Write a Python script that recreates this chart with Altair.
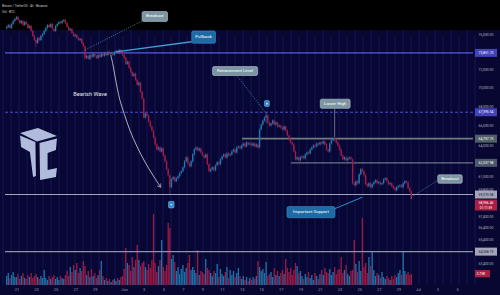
import json
import altair as alt
import pandas as pd

# ---------------------------------------------------------------
# BTC/USDT 4h candles, six per day, May 20 -> Jun 30 (closes, USDT)
# ---------------------------------------------------------------
closes_by_day = [
    [76864, 77100, 76745, 77219, 77576, 77815],
    [78055, 77695, 77338, 77576, 77100, 77457],
    [77219, 76745, 76982, 76392, 75807, 75342],
    [74995, 75574, 75342, 75807, 76040, 76392],
    [76745, 77100, 76864, 77219, 76627, 76392],
    [76982, 77219, 77457, 77338, 77576, 77695],
    [77338, 76864, 76510, 76627, 76158, 75807],
    [75923, 75574, 75342, 75458, 74995, 74650],
    [73287, 73512, 73175, 73625, 73400, 73738],
    [73512, 73287, 73625, 73400, 73738, 73512],
    [73851, 73625, 73965, 73738, 73851, 73625],
    [73965, 74078, 73851, 74192, 73965, 73625],
    [73287, 72616, 72839, 72171, 71729, 71290],
    [71509, 70855, 70313, 70529, 69562, 68820],
    [66844, 67255, 67049, 66434, 65927, 65524],
    [64825, 64133, 63643, 63838, 63448, 63741],
    [63060, 62482, 61721, 61155, 60040, 60781],
    [60968, 60595, 60874, 61062, 61343, 61532],
    [61910, 62482, 62866, 62291, 62005, 62482],
    [63157, 63643, 63838, 63545, 63741, 63350],
    [63060, 62866, 63157, 62196, 61532, 61721],
    [61910, 61626, 62100, 62386, 62196, 62674],
    [62963, 63157, 62866, 63253, 63060, 63157],
    [63448, 63643, 63350, 63838, 63936, 63741],
    [64035, 64231, 63936, 64330, 64133, 64231],
    [64035, 64231, 63936, 64133, 63838, 65625],
    [66130, 66537, 66844, 67049, 66332, 66028],
    [66231, 66537, 66130, 66332, 65927, 66028],
    [65826, 65625, 65927, 65524, 65024, 64626],
    [64330, 64133, 63448, 62674, 62866, 62578],
    [62866, 62963, 62770, 63157, 63350, 63253],
    [63643, 63838, 64035, 63936, 64231, 64133],
    [64330, 64231, 64429, 64133, 63643, 63448],
    [64231, 64527, 64725, 64626, 64330, 64035],
    [63643, 63060, 62674, 62866, 62578, 62770],
    [62866, 62674, 60409, 60224, 60595, 60409],
    [61249, 61721, 61532, 61155, 60317, 60132],
    [60409, 60040, 60317, 60502, 60688, 60409],
    [60502, 60317, 60409, 60781, 60874, 60595],
    [60317, 60409, 60132, 59948, 59764, 60040],
    [60132, 60224, 60040, 60409, 60595, 60502],
    [59948, 59672, 58956.46],
]
first_open = 76700

# candle index -> (high, low) for the wicks that stand out
wick_extremes = {
    18: (75420, 74540),
    48: (74700, 73063),
    100: (61200, 59420),
    159: (67400, 66300),
    201: (64760, 64420),
    248: (59700, 58900),
}

# 4h volume, thousand BTC
volume_by_day = [
    [2.97, 3.96, 2.31, 3.30, 4.29, 2.64],
    [2.64, 3.63, 1.98, 2.97, 3.96, 2.31],
    [1.98, 3.30, 2.64, 3.96, 2.31, 2.97],
    [3.63, 2.64, 1.98, 2.97, 2.31, 4.95],
    [2.31, 1.65, 2.97, 1.98, 2.64, 3.30],
    [1.98, 2.64, 1.65, 2.97, 2.31, 1.98],
    [3.30, 4.62, 2.97, 5.94, 4.29, 6.60],
    [4.95, 7.26, 3.96, 5.61, 4.62, 7.92],
    [6.27, 3.30, 4.62, 2.64, 5.28, 2.97],
    [3.96, 2.31, 3.30, 4.95, 7.92, 2.97],
    [1.65, 2.31, 1.32, 1.98, 0.99, 1.65],
    [1.98, 1.32, 2.31, 1.65, 2.64, 2.97],
    [5.28, 12.21, 7.26, 6.60, 4.62, 9.24],
    [5.94, 8.25, 13.20, 8.25, 6.27, 7.26],
    [7.92, 5.94, 4.95, 6.93, 5.61, 8.25],
    [23.43, 7.26, 4.29, 6.27, 8.25, 14.85],
    [5.94, 4.62, 6.60, 20.46, 18.81, 8.58],
    [9.90, 7.59, 4.62, 5.94, 3.63, 5.28],
    [6.60, 4.29, 5.61, 7.26, 9.90, 4.95],
    [5.94, 4.95, 3.96, 11.55, 3.30, 4.62],
    [4.29, 3.63, 8.58, 5.61, 4.95, 3.96],
    [2.97, 4.62, 3.96, 6.93, 2.64, 5.28],
    [3.63, 2.97, 4.29, 5.94, 2.31, 4.95],
    [3.30, 4.62, 2.64, 3.96, 5.61, 2.97],
    [1.98, 2.97, 1.65, 2.64, 1.32, 2.31],
    [1.65, 2.64, 1.98, 2.97, 7.92, 5.94],
    [4.62, 5.28, 3.96, 7.59, 2.97, 3.63],
    [4.29, 2.64, 5.61, 3.30, 4.62, 2.97],
    [3.96, 4.95, 3.63, 8.58, 5.61, 4.29],
    [5.61, 3.30, 4.95, 7.26, 6.27, 3.96],
    [4.62, 2.97, 1.98, 3.63, 2.64, 4.29],
    [2.31, 3.30, 1.65, 3.96, 2.97, 1.98],
    [3.63, 4.95, 3.30, 5.61, 4.29, 3.96],
    [5.28, 3.30, 4.29, 5.94, 3.63, 4.95],
    [5.28, 9.24, 3.96, 4.95, 6.60, 3.63],
    [2.97, 4.62, 4.95, 14.85, 6.93, 4.29],
    [7.92, 4.62, 22.11, 5.94, 7.26, 3.96],
    [9.24, 6.27, 10.89, 4.95, 2.97, 3.96],
    [3.30, 2.31, 4.29, 2.64, 1.98, 2.97],
    [2.31, 1.65, 2.97, 1.98, 3.30, 2.64],
    [3.96, 4.95, 3.30, 10.89, 4.62, 3.63],
    [4.29, 3.30, 3.73],
]

# horizontal levels drawn across the chart
level_prices = [73851.73, 64707.73, 62337.98, 59370.08, 54368.19]
level_starts = [-12.17, 12.03, 17.03, -12.17, -12.17]
level_colors = ["#5a5ae8", "#6f7d7b", "#6b7982", "#b3b7c9", "#8e93aa"]
level_widths = [1.4, 1.6, 1.3, 0.9, 1.4]
retracement_price = 67395.54

# price scale labels
price_ticks = [80000, 78000, 76000, 72000, 70000, 68000, 66000, 64000,
               61000, 59800, 57400, 56400, 55400, 53400]
# time axis: days relative to Jun 1
tick_days = [-11, -9, -7, -5, -3, 0, 2, 4, 6, 8, 10, 12, 14, 16, 18, 20,
             22, 24, 26, 28, 30, 32, 34]
tick_labels = ["21", "23", "25", "27", "29", "Jun", "3", "5", "7", "9", "11",
               "13", "15", "17", "19", "21", "23", "25", "27", "29", "Jul",
               "3", "5"]

# annotation boxes: text, day range, price range, fill, border
box_text = ["Breakout", "Pullback", "Retracement Level", "Lower High",
            "Breakout", "Important Support"]
box_d0 = [1.83, 6.9, 9.03, 20.03, 32.03, 16.63]
box_d1 = [4.43, 9.33, 13.63, 23.08, 34.53, 21.53]
box_p0 = [78710, 76390, 72305, 68767, 61202, 58274]
box_p1 = [77520, 74960, 71323, 67802, 60409, 57282]
box_fill = ["#7c95a2", "#1d6aa4", "#7c95a2", "#7c95a2", "#7c95a2", "#1d6aa4"]
box_stroke = ["#b9cad3", "#3b8fd0", "#b9cad3", "#b9cad3", "#b9cad3", "#3b8fd0"]

# leader lines from the boxes to the price action
dotted_d0 = [-3.97, 11.5, 29.33]
dotted_p0 = [74192, 71323, 59126]
dotted_d1 = [1.83, 14.5, 32.03]
dotted_p1 = [77576, 67290, 60688]
solid_d0 = [-0.87, 21.5, 21.53]
solid_p0 = [73965, 67802, 58092]
solid_d1 = [6.9, 21.5, 24.33]
solid_p1 = [75130, 64875, 59126]
solid_col = ["#3a9fd6", "#9fb1ba", "#2f8fcb"]
solid_w = [1.3, 0.6, 1.0]

# small flag markers above/below the swing points
flag_d0 = [14.33, 4.53]
flag_d1 = [14.83, 5.1]
flag_p0 = [68624, 58746]
flag_p1 = [67993, 58151]

# curved "Bearish Wave" arrow
wave_d = [-1.37, -1.17, -0.97, -0.67, -0.47, 0.03, 0.53, 1.33, 2.13, 2.93, 3.73]
wave_p = [73625, 72728, 71400, 69776, 68714, 67152, 65625, 63838, 62386,
          61155, 60040]

UP, DOWN = "#2db9f5", "#f2355c"
VUP, VDOWN = "#2079b0", "#a51c48"
BG = "#070732"
FONT = "Roboto"

# ---------------------------------------------------------------
closes = [c for day in closes_by_day for c in day]
volumes = [v for day in volume_by_day for v in day]
opens = [first_open] + closes[:-1]
rows = []
for i, (o, c, v) in enumerate(zip(opens, closes, volumes)):
    hi, lo = max(o, c) * 1.0018, min(o, c) * 0.9982
    if i in wick_extremes:
        hi, lo = wick_extremes[i]
    rows.append({"d": -12 + i / 6, "open": o, "close": c, "high": hi,
                 "low": lo, "vol": v, "dir": "up" if c >= o else "down"})
candles = pd.DataFrame(rows)

XS = alt.Scale(domain=[-12.17, 35.63], nice=False, zero=False)
XA = alt.Axis(values=tick_days, title=None, grid=False, ticks=False,
              domain=False, labelColor="#9a9daa", labelFontSize=4,
              labelFont=FONT, labelPadding=2, labelFlush=False,
              labelOverlap=False,
              labelExpr=f"{json.dumps(tick_labels)}[indexof({json.dumps(tick_days)}, datum.value)]")
YS = alt.Scale(type="log", domain=[51642, 80123], nice=False)
YA = alt.Axis(values=price_ticks, orient="right", format=",.2f", title=None,
              grid=False, ticks=False, domain=False, labelColor="#b2b5be",
              labelFontSize=3.4, labelFont=FONT, labelPadding=0,
              labelFlush=False, labelOverlap=False, labelBaseline="middle")


def X(f):
    return alt.X(f"{f}:Q", scale=XS, axis=XA)


def Y(f):
    return alt.Y(f"{f}:Q", scale=YS, axis=YA)


# --- background: black band on top, navy field with vertical stripes ---
band = alt.Chart(pd.DataFrame({"k": [0]})).mark_rect(color="#000000").encode(
    x=alt.value(0), x2=alt.value(500), y=alt.value(0), y2=alt.value(30))
stripe_x = list(range(3, 478, 8))
stripes = pd.DataFrame({"sx": stripe_x,
                        "top": [30 if k % 2 == 0 else 36 for k in range(len(stripe_x))]})
stripe_layer = alt.Chart(stripes).mark_rule(color="#13135f", strokeWidth=1.1).encode(
    x=alt.X("sx:Q", scale=None), y=alt.Y("top:Q", scale=None), y2=alt.value(285))

# watermark logo
LOGO = ("M-0.71,-0.81L-0.02,-1L0.71,-0.69L-0.06,-0.48Z "
        "M-0.71,-0.71L-0.12,-0.46L-0.1,0.85L-0.21,0.88L-0.33,-0.08L-0.67,-0.27Z "
        "M0.04,-0.42L0.71,-0.6L0.67,-0.15L0.35,-0.04L0.35,0.62L0.71,0.54L0.67,0.88L0.06,1Z")
logo = alt.Chart(pd.DataFrame({"k": [0]})).mark_point(
    shape=LOGO, size=2704, filled=True, fill="#c8d5f3", opacity=0.88, strokeWidth=0
).encode(x=alt.value(38.5), y=alt.value(154))

# --- volume pane ---
vol_layer = alt.Chart(candles).mark_bar(size=1.35, opacity=0.92).encode(
    x=X("d"),
    y=alt.Y("vol:Q", scale=alt.Scale(domain=[0, 94], nice=False), axis=None, stack=None),
    color=alt.Color("dir:N", scale=alt.Scale(domain=["up", "down"], range=[VUP, VDOWN]), legend=None),
)

# --- price pane ---
levels = pd.DataFrame({"price": level_prices, "d0": level_starts,
                       "d1": [35.63] * len(level_prices), "col": level_colors,
                       "w": level_widths})
level_layer = alt.Chart(levels).mark_rule().encode(
    x=X("d0"), x2="d1", y=Y("price"),
    color=alt.Color("col:N", scale=None),
    strokeWidth=alt.StrokeWidth("w:Q", scale=None))
retr_layer = alt.Chart(pd.DataFrame({"price": [retracement_price], "d0": [-12.17], "d1": [35.63]})).mark_rule(
    color="#4d4dd6", strokeWidth=1.0, strokeDash=[3, 2]).encode(x=X("d0"), x2="d1", y=Y("price"))

wicks = alt.Chart(candles).mark_rule(strokeWidth=0.6).encode(
    x=X("d"), y=Y("low"), y2="high",
    color=alt.Color("dir:N", scale=alt.Scale(domain=["up", "down"], range=[UP, DOWN]), legend=None))
bodies = alt.Chart(candles).mark_bar(size=1.4).encode(
    x=X("d"), y=Y("open"), y2="close",
    color=alt.Color("dir:N", scale=alt.Scale(domain=["up", "down"], range=[UP, DOWN]), legend=None))

wave = pd.DataFrame({"d": wave_d, "p": wave_p, "o": list(range(len(wave_d)))})
wave_line = alt.Chart(wave).mark_line(color="#d6d8e2", strokeWidth=0.8, interpolate="basis").encode(
    x=X("d"), y=Y("p"), order="o:Q")
wave_head = alt.Chart(wave.tail(1)).mark_point(
    shape="M-1,-0.7L0,0L-1,0.7", size=40, filled=False, stroke="#d6d8e2",
    strokeWidth=0.8, angle=56).encode(x=X("d"), y=Y("p"))
wave_text = alt.Chart(pd.DataFrame({"d": [-3.47], "p": [69350], "t": ["Bearish Wave"]})).mark_text(
    color="#e6e8f0", fontSize=5.6, font=FONT).encode(x=X("d"), y=Y("p"), text="t:N")

dotted = pd.DataFrame({"d0": dotted_d0, "p0": dotted_p0, "d1": dotted_d1, "p1": dotted_p1})
dotted_layer = alt.Chart(dotted).mark_rule(color="#5fb2d6", strokeWidth=0.7, strokeDash=[1, 1.4]).encode(
    x=X("d0"), y=Y("p0"), x2="d1", y2="p1")
solid = pd.DataFrame({"d0": solid_d0, "p0": solid_p0, "d1": solid_d1, "p1": solid_p1,
                      "col": solid_col, "w": solid_w})
solid_layer = alt.Chart(solid).mark_rule().encode(
    x=X("d0"), y=Y("p0"), x2="d1", y2="p1",
    color=alt.Color("col:N", scale=None), strokeWidth=alt.StrokeWidth("w:Q", scale=None))

boxes = pd.DataFrame({"t": box_text, "d0": box_d0, "d1": box_d1, "p0": box_p0,
                      "p1": box_p1, "fill": box_fill, "stroke": box_stroke})
boxes["dm"] = (boxes["d0"] + boxes["d1"]) / 2
boxes["pm"] = (boxes["p0"] * boxes["p1"]) ** 0.5
box_rect = alt.Chart(boxes).mark_rect(cornerRadius=1.5, strokeWidth=0.6).encode(
    x=X("d0"), x2="d1", y=Y("p0"), y2="p1",
    fill=alt.Fill("fill:N", scale=None), stroke=alt.Stroke("stroke:N", scale=None))
box_label = alt.Chart(boxes).mark_text(color="#ffffff", fontSize=4.4, font=FONT).encode(
    x=X("dm"), y=Y("pm"), text="t:N")

flags = pd.DataFrame({"d0": flag_d0, "d1": flag_d1, "p0": flag_p0, "p1": flag_p1})
flags["dm"] = (flags["d0"] + flags["d1"]) / 2
flags["pm"] = (flags["p0"] * flags["p1"]) ** 0.5
flag_rect = alt.Chart(flags).mark_rect(cornerRadius=1, fill="#2f86c8", stroke="#7cc4f0", strokeWidth=0.5).encode(
    x=X("d0"), x2="d1", y=Y("p0"), y2="p1")
flag_dot = alt.Chart(flags).mark_point(shape="square", size=3, filled=True, color="#ffffff").encode(
    x=X("dm"), y=Y("pm"))

# --- price scale badges ---
last_close = closes[-1]
badge_price = [level_prices[0], retracement_price, level_prices[1], level_prices[2],
               level_prices[3], level_prices[4]]
badge_fill = ["#5b5bf2", "#5b5bf2", "#6f857f", "#6a7a82", "#e6e7f0", "#e6e7f0"]
badge_ink = ["#ffffff", "#ffffff", "#ffffff", "#ffffff", "#14143a", "#14143a"]
badges = pd.DataFrame({"p": badge_price, "fill": badge_fill, "ink": badge_ink,
                       "t": [f"{p:,.2f}" for p in badge_price]})
BOX = "M-1,-0.364L1,-0.364L1,0.364L-1,0.364Z"
badge_box = alt.Chart(badges).mark_point(shape=BOX, size=484, filled=True, strokeWidth=0).encode(
    x=alt.value(486), y=Y("p"), fill=alt.Fill("fill:N", scale=None))
badge_text = alt.Chart(badges).mark_text(fontSize=3.4, font=FONT).encode(
    x=alt.value(486), y=Y("p"), text="t:N", color=alt.Color("ink:N", scale=None))

last_df = pd.DataFrame({"p": [last_close], "t": [f"{last_close:,.2f}"], "cd": ["01:11:59"]})
last_box = alt.Chart(last_df).mark_point(
    shape="M-1,-0.5L1,-0.5L1,0.5L-1,0.5Z", size=484, filled=True, fill="#f0284a",
    strokeWidth=0, yOffset=6).encode(x=alt.value(486), y=Y("p"))
last_text = alt.Chart(last_df).mark_text(fontSize=3.4, font=FONT, color="#ffffff", yOffset=3.7).encode(
    x=alt.value(486), y=Y("p"), text="t:N")
last_cd = alt.Chart(last_df).mark_text(fontSize=3.2, font=FONT, color="#ffffff", yOffset=8.6).encode(
    x=alt.value(486), y=Y("p"), text="cd:N")

price_pane = alt.layer(
    level_layer, retr_layer, wicks, bodies, wave_line, wave_head, wave_text,
    dotted_layer, solid_layer, box_rect, box_label, flag_rect, flag_dot,
    badge_box, badge_text, last_box, last_text, last_cd,
)

# volume badge on the price scale column
vol_last = pd.DataFrame({"v": [volumes[-1]], "t": [f"{volumes[-1]:.2f}K"]})
vol_badge = alt.Chart(vol_last).mark_point(
    shape="M-1,-0.33L0.36,-0.33L0.36,0.33L-1,0.33Z", size=484, filled=True,
    fill="#f0284a", strokeWidth=0).encode(
    x=alt.value(486), y=alt.Y("v:Q", scale=alt.Scale(domain=[0, 94], nice=False), axis=None))
vol_badge_text = alt.Chart(vol_last).mark_text(fontSize=3.4, font=FONT, color="#ffffff", align="left").encode(
    x=alt.value(476.5), y=alt.Y("v:Q", scale=alt.Scale(domain=[0, 94], nice=False), axis=None), text="t:N")
vol_pane = alt.layer(vol_layer, vol_badge, vol_badge_text)

header = pd.DataFrame({"t": ["Bitcoin / TetherUS · 4h · Binance", "Vol · BTC"], "yy": [5.5, 11.5]})
header_layer = alt.Chart(header).mark_text(align="left", fontSize=3.2, font=FONT, color="#c9cbd4").encode(
    x=alt.value(2), y=alt.Y("yy:Q", scale=None), text="t:N")

chart = alt.layer(
    band, stripe_layer, logo, vol_pane, price_pane, header_layer
).resolve_scale(y="independent").properties(
    width=478, height=285,
    autosize=alt.AutoSizeParams(type="none"),
    padding={"left": 0, "top": 0, "right": 22, "bottom": 10},
    background=BG,
).configure_view(strokeWidth=0)

chart.save("out.html", embed_options={"renderer": "svg", "actions": False})
